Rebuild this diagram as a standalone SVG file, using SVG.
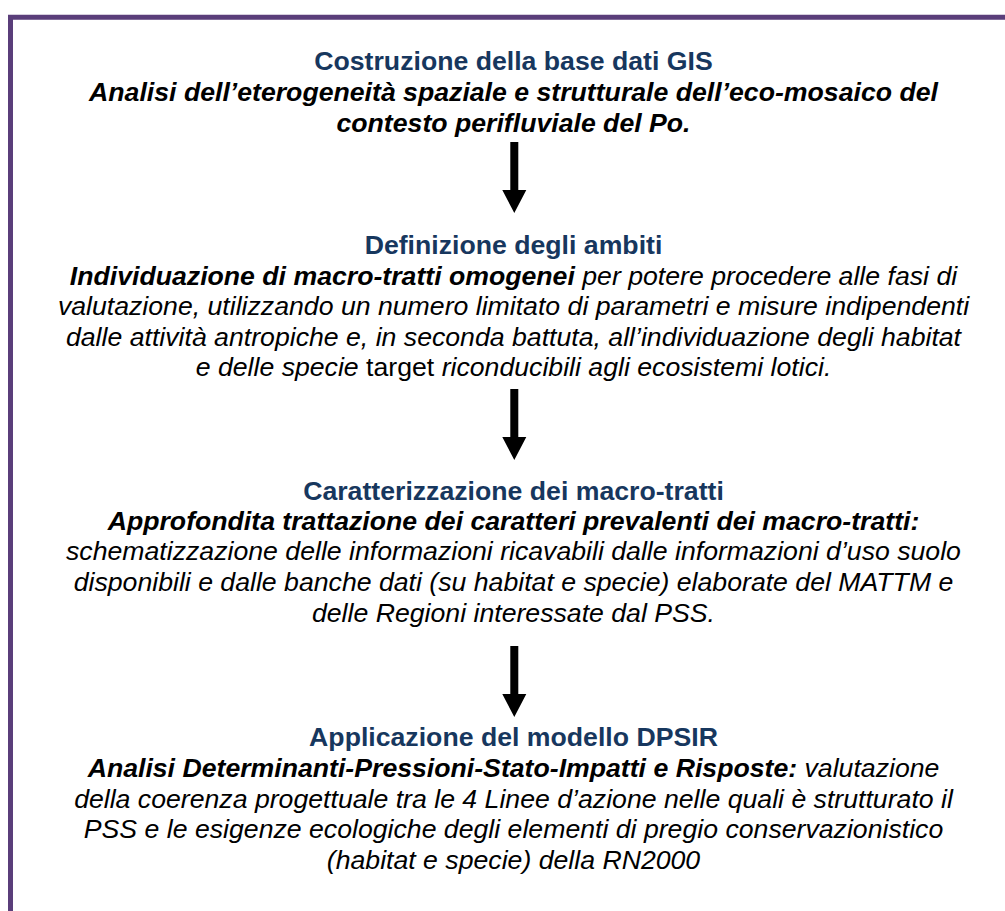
<svg xmlns="http://www.w3.org/2000/svg" width="1005" height="911" viewBox="0 0 1005 911">
<style>
text{font-family:"Liberation Sans",Arial,sans-serif;font-size:26.67px;text-anchor:middle;fill:#000}
.t{font-weight:bold;fill:#17375E}
.bi{font-weight:bold;font-style:italic}
.i{font-style:italic}
.n{font-style:normal}
.arrow{fill:#000}
</style>
<defs>
<path id="arr" d="M-4 0 H4 V48 H12 L0 71 L-12 48 H-4 Z"/>
</defs>
<rect width="1005" height="911" fill="#fff"/>
<path d="M10.5 911 V17.3 H1005" fill="none" stroke="#5A3E7A" stroke-width="5"/>
<g id="node1">
<text x="513.5" y="70" class="t">Costruzione della base dati GIS</text>
<text x="513.5" y="100.5" class="bi">Analisi dell’eterogeneità spaziale e strutturale dell’eco-mosaico del</text>
<text x="513.5" y="131.5" class="bi">contesto perifluviale del Po.</text>
</g>
<g id="node2">
<text x="513.5" y="254.3" class="t">Definizione degli ambiti</text>
<text x="513.5" y="284.5"><tspan class="bi">Individuazione di macro-tratti omogenei</tspan><tspan class="i"> per potere procedere alle fasi di</tspan></text>
<text x="513.5" y="315" class="i">valutazione, utilizzando un numero limitato di parametri e misure indipendenti</text>
<text x="513.5" y="345.5" class="i">dalle attività antropiche e, in seconda battuta, all’individuazione degli habitat</text>
<text x="513.5" y="376"><tspan class="i">e delle specie</tspan> target <tspan class="i">riconducibili agli ecosistemi lotici.</tspan></text>
</g>
<g id="node3">
<text x="513.5" y="499.5" class="t">Caratterizzazione dei macro-tratti</text>
<text x="513.5" y="529.8" class="bi">Approfondita trattazione dei caratteri prevalenti dei macro-tratti:</text>
<text x="513.5" y="560.3" class="i">schematizzazione delle informazioni ricavabili dalle informazioni d’uso suolo</text>
<text x="513.5" y="590.8" class="i">disponibili e dalle banche dati (su habitat e specie) elaborate del MATTM e</text>
<text x="513.5" y="621.5" class="i">delle Regioni interessate dal PSS.</text>
</g>
<g id="node4">
<text x="513.5" y="745.5" class="t">Applicazione del modello DPSIR</text>
<text x="513.5" y="776.5"><tspan class="bi">Analisi Determinanti-Pressioni-Stato-Impatti e Risposte:</tspan><tspan class="i"> valutazione</tspan></text>
<text x="513.5" y="807.5" class="i">della coerenza progettuale tra le 4 Linee d’azione nelle quali è strutturato il</text>
<text x="513.5" y="838" class="i">PSS e le esigenze ecologiche degli elementi di pregio conservazionistico</text>
<text x="513.5" y="868.5" class="i">(habitat e specie) della RN2000</text>
</g>
<g id="connectors" class="arrow">
<use href="#arr" x="514.3" y="142"/>
<use href="#arr" x="514.3" y="389"/>
<use href="#arr" x="514.3" y="646"/>
</g>
</svg>
